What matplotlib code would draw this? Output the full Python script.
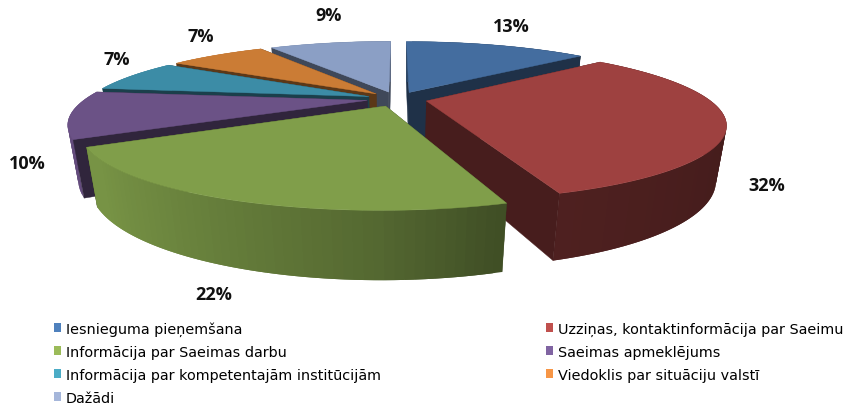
import numpy as np
import matplotlib
matplotlib.use("Agg")
import matplotlib.pyplot as plt
from matplotlib.patches import Polygon, Patch

# Data
categories = ["Iesnieguma pieņemšana", "Uzziņas, kontaktinformācija par Saeimu",
              "Informācija par Saeimas darbu", "Saeimas apmeklējums",
              "Informācija par kompetentajām institūcijām", "Viedoklis par situāciju valstī",
              "Dažādi"]
values = [13.49, 31.5, 22.0, 10.0, 7.0, 7.0, 9.01]
colors = ["#446D9F", "#9E4140", "#809E4A", "#6B5286", "#3C8CA6", "#CB7C35", "#8B9FC5"]
legend_colors = ["#4F81BD", "#C0504D", "#9BBB59", "#8064A2", "#4BACC6", "#F79646", "#A5B6DA"]

# Projection / layout
CX, CY = 397, 100
A, B, K = 282, 69.0, 0.29
H, M = 53, 0.03
EXPLODE = 0.107
label_pos = [(511, 27), (767, 186), (214, 295), (27, 164), (117, 60), (201, 37), (329, 16)]
draw_order = [6, 5, 4, 0, 3, 1, 2]

fig = plt.figure(figsize=(8.47, 4.10), dpi=100)
ax = fig.add_axes([0, 0, 1, 1])
ax.set_xlim(0, 847)
ax.set_ylim(410, 0)
ax.axis("off")


def project(u, v, z=0.0):
    d = 1 + K * v + M * z
    return CX + A * u / d, CY + (-B * v + H * z) / d


def rgb(c):
    return np.array(matplotlib.colors.to_rgb(c))


def wall_factor(u):
    return np.interp(u, [-1, -0.8, 0.0, 0.3, 1], [0.93, 0.93, 0.66, 0.5, 0.43])


fracs = np.array(values) / sum(values) * 2 * np.pi
ends = np.cumsum(fracs)
starts = ends - fracs
mids = (starts + ends) / 2


def poly(pts, color, z, lw=0.3):
    ax.add_patch(Polygon(pts, closed=True, facecolor=color, edgecolor=color, lw=lw, zorder=z))


z = 1
for i in draw_order:
    base = rgb(colors[i])
    ou, ov = EXPLODE * np.sin(mids[i]), EXPLODE * np.cos(mids[i])
    th = np.linspace(starts[i], ends[i], max(int(fracs[i] * 40), 6))
    us, vs = ou + np.sin(th), ov + np.cos(th)

    def face(t):
        u1, v1 = ou + np.sin(t), ov + np.cos(t)
        return [project(ou, ov), project(u1, v1), project(u1, v1, 1), project(ou, ov, 1)]

    start_front = np.sin(starts[i]) < 0
    end_front = np.sin(ends[i]) > 0
    # back-facing radial faces
    if not start_front:
        poly(face(starts[i]), base * 0.45, z)
    if not end_front:
        poly(face(ends[i]), base * 0.45, z)
    z += 1
    # outer wall: each quad overlaps the next so no seam shows
    n = len(th)
    for j in range(n - 1):
        k = min(j + 2, n - 1)
        f = wall_factor(np.sin(th[j]))
        seg = range(j, k + 1)
        pts = [project(us[m], vs[m]) for m in seg] + [project(us[m], vs[m], 1) for m in reversed(seg)]
        poly(pts, base * f, z, lw=0)
        z += 0.001
    z += 1
    # front-facing radial faces
    if start_front:
        poly(face(starts[i]), base * 0.45, z)
    if end_front:
        poly(face(ends[i]), base * 0.45, z)
    z += 1
    # top face
    top = [project(ou, ov)] + [project(a, b) for a, b in zip(us, vs)]
    poly(top, base, z)
    z += 1

for (x, y), val in zip(label_pos, values):
    ax.text(x, y, f"{round(val)}%", ha="center", va="center", fontsize=13,
            family="Open Sans", fontweight="bold", color="#111111", zorder=1000)

order = [0, 2, 4, 6, 1, 3, 5]
handles = [Patch(facecolor=legend_colors[i], edgecolor="none", label=categories[i]) for i in order]
leg = ax.legend(handles=handles, ncol=2, loc="upper left", bbox_to_anchor=(54, 322),
                bbox_transform=ax.transData, frameon=False,
                prop={"family": "DejaVu Sans", "size": 10.4},
                handlelength=0.5, handleheight=0.55, handletextpad=0.3,
                labelspacing=0.62, columnspacing=11.45, borderpad=0, borderaxespad=0)
leg.set_zorder(1000)
fig.savefig("out.png", dpi=100)
